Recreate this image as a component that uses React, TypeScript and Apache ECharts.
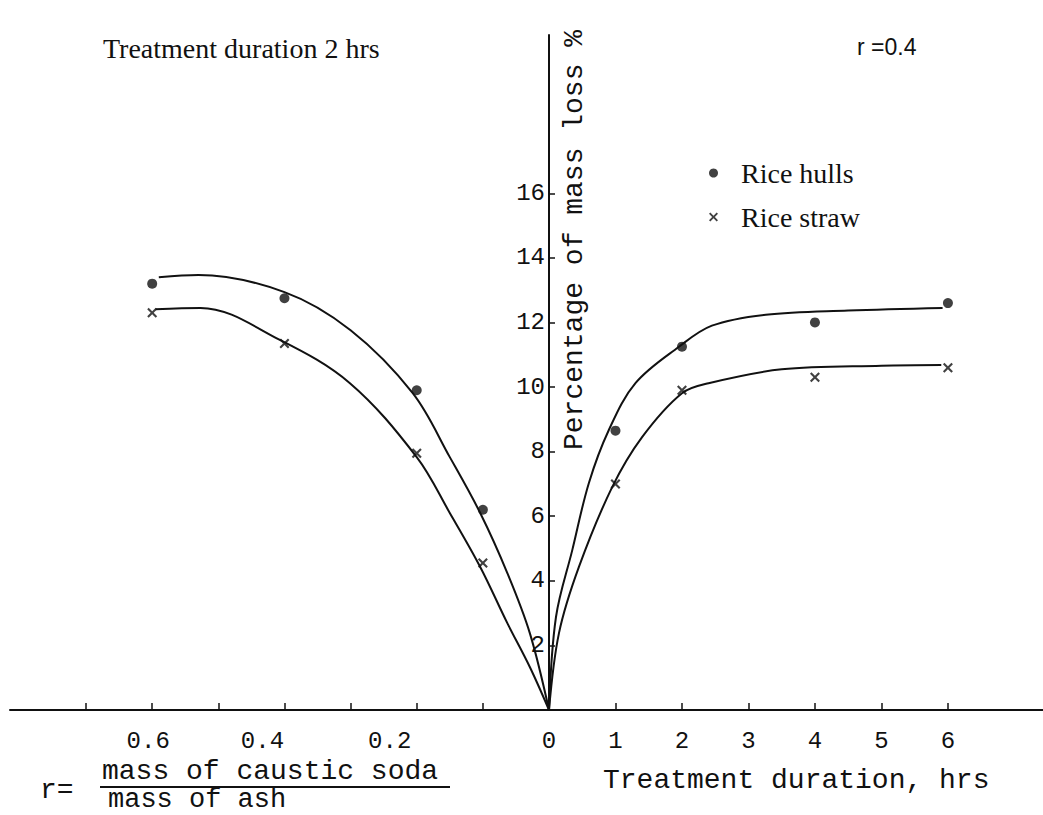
import React, { useEffect, useRef } from "react";
import * as echarts from "echarts";

// Measured points (left: ratio r, right: treatment duration in hours)
const ratioValues = [0.6, 0.4, 0.2, 0.1];
const hullsByRatio = [13.2, 12.75, 9.9, 6.2];
const strawByRatio = [12.3, 11.35, 7.95, 4.55];
const hourValues = [1, 2, 4, 6];
const hullsByHour = [8.65, 11.25, 12.0, 12.6];
const strawByHour = [7.0, 9.9, 10.3, 10.6];

// Hand-drawn fitted curves
const hullsCurveRatioX = [0.59, 0.53, 0.4, 0.3, 0.206, 0.15, 0.104, 0.063, 0.029, 0];
const hullsCurveRatioY = [13.4, 13.47, 12.94, 11.76, 9.81, 7.83, 6.1, 4.24, 2.38, 0];
const strawCurveRatioX = [0.595, 0.527, 0.407, 0.301, 0.2, 0.15, 0.104, 0.063, 0.029, 0];
const strawCurveRatioY = [12.41, 12.45, 11.46, 10.12, 7.83, 6.1, 4.43, 2.69, 1.33, 0];
const hullsCurveHourX = [0, 0.105, 0.35, 0.6, 0.9, 1.3, 1.95, 2.45, 3.26, 4.5, 5.92];
const hullsCurveHourY = [0, 2.88, 4.95, 7.03, 8.67, 10.12, 11.24, 11.9, 12.24, 12.37, 12.45];
const strawCurveHourX = [0, 0.15, 0.45, 0.95, 1.4, 2.0, 2.4, 3.5, 5.0, 5.9];
const strawCurveHourY = [0, 2.38, 4.43, 6.9, 8.45, 9.81, 10.12, 10.55, 10.66, 10.68];

// Axis ticks and labels
const yTickValues = [2, 4, 6, 8, 10, 12, 14, 16];
const ratioTickValues = [0.1, 0.2, 0.3, 0.4, 0.5, 0.6, 0.7];
const ratioLabelValues = [0.2, 0.4, 0.6];
const hourTickValues = [1, 2, 3, 4, 5, 6];
const hourLabelValues = [0, 1, 2, 3, 4, 5, 6];

const INK = "#111";
const MONO = "'Liberation Mono', 'DejaVu Sans Mono', monospace";
const SERIF = "'Liberation Serif', 'DejaVu Serif', serif";
const CROSS =
  "path://M0,1.5L1.5,0L5,3.5L8.5,0L10,1.5L6.5,5L10,8.5L8.5,10L5,6.5L1.5,10L0,8.5L3.5,5Z";

const zip = (xs: number[], ys: number[]) => xs.map((x, i) => [x, ys[i]]);

export default function App() {
  const ref = useRef<HTMLDivElement>(null);

  useEffect(() => {
    document.body.style.margin = "0";
    if (!ref.current) return;
    const chart = echarts.init(ref.current, null, { renderer: "svg" });

    const labelShift: Record<string, number> = { s6: 8, s4: 44, s2: 54 };
    const rich: Record<string, any> = {};
    Object.keys(labelShift).forEach((k) => {
      rich[k] = {
        fontFamily: MONO,
        fontSize: 24,
        color: INK,
        padding: [0, labelShift[k], 0, 0],
      };
    });

    const curveStyle = { color: INK, width: 2 };
    const curve = (name: string, axis: number, xs: number[], ys: number[]) => ({
      name,
      type: "line",
      xAxisIndex: axis,
      yAxisIndex: axis,
      data: zip(xs, ys),
      smooth: 0.35,
      showSymbol: false,
      symbol: "none",
      lineStyle: curveStyle,
    });
    const points = (name: string, axis: number, symbol: string, xs: number[], ys: number[]) => ({
      name,
      type: "scatter",
      xAxisIndex: axis,
      yAxisIndex: axis,
      symbol,
      symbolSize: 10,
      itemStyle: { color: INK },
      z: 5,
      data: zip(xs, ys),
    });
    const mono = (text: string, x: number, y: number) => ({
      type: "text",
      x,
      y,
      style: {
        text,
        fontFamily: MONO,
        fontSize: 28,
        fill: INK,
        textAlign: "left",
        textVerticalAlign: "middle",
      },
    });

    chart.setOption({
      animation: false,
      backgroundColor: "#fff",
      grid: [
        { left: 10, right: 494, top: 35, bottom: 105 },
        { left: 549, right: 0, top: 35, bottom: 105 },
      ],
      xAxis: [
        {
          type: "value",
          gridIndex: 0,
          inverse: true,
          min: 0,
          max: 0.815,
          interval: 0.1,
          splitLine: { show: false },
          axisLine: { show: true, onZero: false, lineStyle: { color: INK, width: 2 } },
          axisTick: {
            show: true,
            inside: true,
            length: 7,
            customValues: ratioTickValues,
            lineStyle: { color: INK, width: 1.5 },
          },
          axisLabel: {
            customValues: ratioLabelValues,
            margin: 19,
            formatter: (v: number) => `{s${Math.round(v * 10)}|${v.toFixed(1)}}`,
            rich,
            fontFamily: MONO,
            fontSize: 24,
            color: INK,
          },
        },
        {
          type: "value",
          gridIndex: 1,
          min: 0,
          max: 7.43,
          interval: 1,
          splitLine: { show: false },
          axisLine: { show: true, onZero: false, lineStyle: { color: INK, width: 2 } },
          axisTick: {
            show: true,
            inside: true,
            length: 7,
            customValues: hourTickValues,
            lineStyle: { color: INK, width: 1.5 },
          },
          axisLabel: {
            customValues: hourLabelValues,
            margin: 19,
            fontFamily: MONO,
            fontSize: 24,
            color: INK,
          },
        },
      ],
      yAxis: [
        {
          type: "value",
          gridIndex: 0,
          position: "right",
          min: 0,
          max: 20.9,
          interval: 2,
          splitLine: { show: false },
          axisLine: { show: true, onZero: false, lineStyle: { color: INK, width: 2 } },
          axisTick: {
            show: true,
            inside: false,
            length: 6,
            customValues: yTickValues,
            lineStyle: { color: INK, width: 1.5 },
          },
          axisLabel: {
            inside: true,
            margin: 4,
            customValues: yTickValues,
            fontFamily: MONO,
            fontSize: 24,
            color: INK,
          },
        },
        {
          type: "value",
          gridIndex: 1,
          min: 0,
          max: 20.9,
          show: false,
          splitLine: { show: false },
        },
      ],
      legend: {
        data: ["Rice hulls", "Rice straw"],
        orient: "vertical",
        left: 704,
        top: 153,
        itemWidth: 9,
        itemHeight: 9,
        itemGap: 14,
        selectedMode: false,
        textStyle: {
          fontFamily: SERIF,
          fontSize: 28,
          color: INK,
          lineHeight: 30,
          padding: [0, 0, 0, 18],
        },
      },
      series: [
        curve("Rice hulls fit (r)", 0, hullsCurveRatioX, hullsCurveRatioY),
        curve("Rice straw fit (r)", 0, strawCurveRatioX, strawCurveRatioY),
        curve("Rice hulls fit (t)", 1, hullsCurveHourX, hullsCurveHourY),
        curve("Rice straw fit (t)", 1, strawCurveHourX, strawCurveHourY),
        points("Rice hulls", 0, "circle", ratioValues, hullsByRatio),
        points("Rice straw", 0, CROSS, ratioValues, strawByRatio),
        points("Rice hulls", 1, "circle", hourValues, hullsByHour),
        points("Rice straw", 1, CROSS, hourValues, strawByHour),
      ],
      graphic: [
        {
          type: "text",
          left: 103,
          top: 34,
          style: { text: "Treatment duration 2 hrs", fontFamily: SERIF, fontSize: 28, fill: INK },
        },
        {
          type: "text",
          left: 857,
          top: 35,
          style: { text: "r =0.4", fontFamily: "'Liberation Sans', sans-serif", fontSize: 23, fill: INK },
        },
        {
          type: "text",
          x: 574,
          y: 450,
          rotation: Math.PI / 2,
          style: {
            text: "Percentage of mass loss %",
            fontFamily: MONO,
            fontSize: 28,
            fill: INK,
            textAlign: "left",
            textVerticalAlign: "middle",
          },
        },
        mono("Treatment duration, hrs", 603, 780),
        mono("r=", 40, 790),
        mono("mass of caustic soda", 102, 771),
        {
          type: "line",
          shape: { x1: 100, y1: 787, x2: 450, y2: 787 },
          style: { stroke: INK, lineWidth: 2 },
        },
        {
          type: "text",
          x: 108,
          y: 800,
          style: {
            text: "mass of ash",
            fontFamily: MONO,
            fontSize: 27,
            fill: INK,
            textAlign: "left",
            textVerticalAlign: "middle",
          },
        },
      ],
    });

    return () => {
      chart.dispose();
    };
  }, []);

  return <div ref={ref} style={{ width: 1043, height: 815 }} />;
}
